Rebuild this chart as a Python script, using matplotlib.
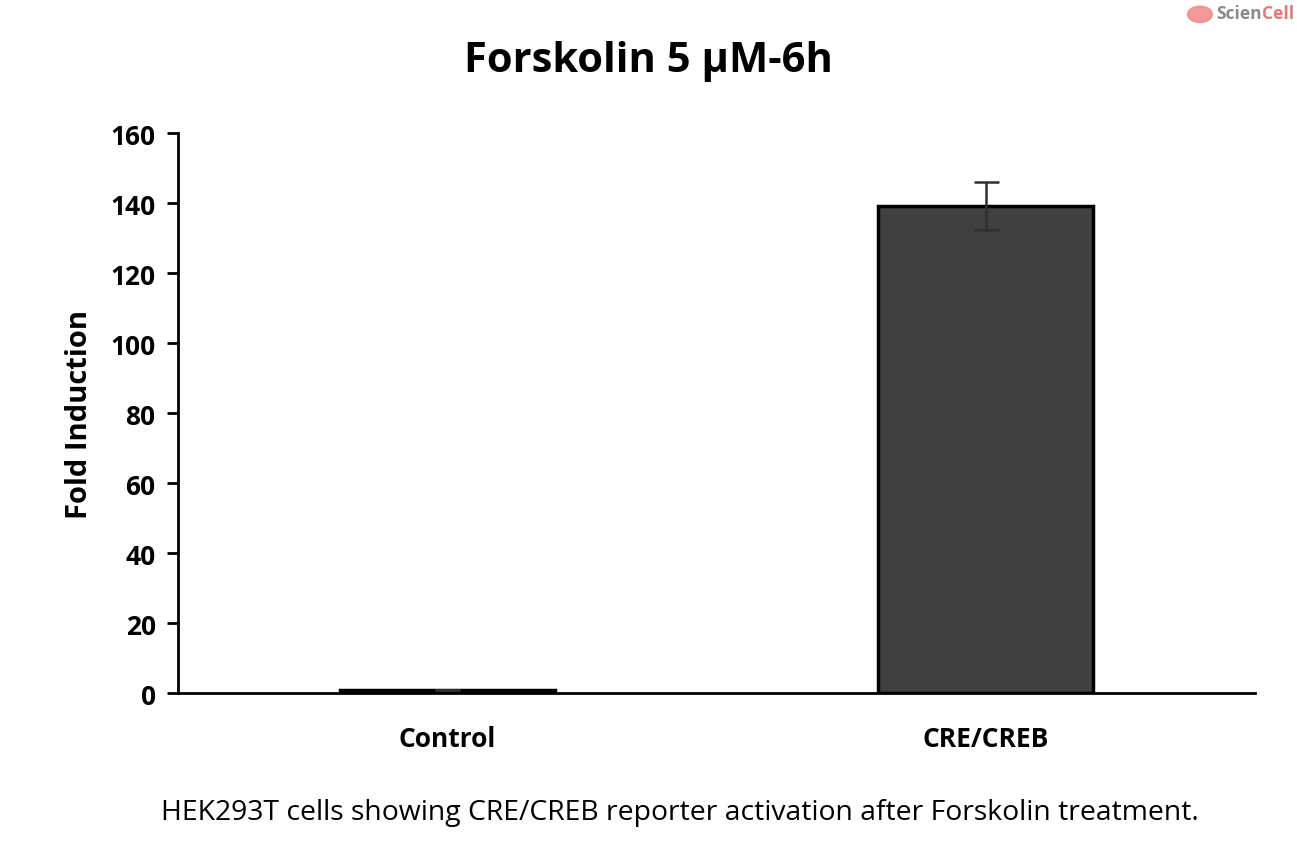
import numpy as np
import matplotlib.pyplot as plt
from matplotlib.patches import Circle

categories = ['Control', 'CRE/CREB']
fold_induction = [1.0, 139.2]
errors = [0.0, 6.8]
y_ticks = [0, 20, 40, 60, 80, 100, 120, 140, 160]

plt.rcParams['font.family'] = ['Open Sans', 'DejaVu Sans']

fig = plt.figure(figsize=(12.97, 8.53), dpi=100)
ax = fig.add_axes([0.1372, 0.1864, 0.8304, 0.6565])

x = np.arange(len(categories))
ax.bar(x, fold_induction, width=0.4, color='#404040', edgecolor='black', linewidth=2.5,
       yerr=errors, capsize=9, error_kw=dict(ecolor='#303030', elinewidth=1.8, capthick=1.8),
       zorder=3)

ax.set_xlim(-0.5, 1.5)
ax.set_ylim(0, 160)
ax.set_yticks(y_ticks)
ax.set_xticks(x)
ax.set_xticklabels(categories, fontsize=19, fontweight='bold')
ax.tick_params(axis='y', direction='out', length=8, width=2, labelsize=19, pad=8)
ax.tick_params(axis='x', length=0, pad=23)
for lab in ax.get_yticklabels():
    lab.set_fontweight('bold')

for side in ['top', 'right']:
    ax.spines[side].set_visible(False)
ax.spines['left'].set_linewidth(2)
ax.spines['bottom'].set_linewidth(2)

ax.set_ylabel('Fold Induction', fontsize=21, fontweight='bold', labelpad=12)

fig.text(0.5, 0.928, 'Forskolin 5 \u03bcM-6h', ha='center', va='center',
         fontsize=30, fontweight='bold')
fig.text(0.524, 0.047, 'HEK293T cells showing CRE/CREB reporter activation after Forskolin treatment.',
         ha='center', va='center', fontsize=20.4)

# watermark logo
fig.patches.append(Circle((0.9252, 0.982), 0.0095, transform=fig.transFigure,
                          color='#f08080', alpha=0.8))
scien = fig.text(0.9375, 0.984, 'Scien', ha='left', va='center', fontsize=12.5,
                 fontweight='bold', color='#8a8a8a')
fig.add_artist(plt.Annotation('Cell', xy=(1, 0.5), xycoords=scien, ha='left', va='center',
                              fontsize=12.5, fontweight='bold', color='#e87878'))

fig.savefig('out.png', dpi=100)
